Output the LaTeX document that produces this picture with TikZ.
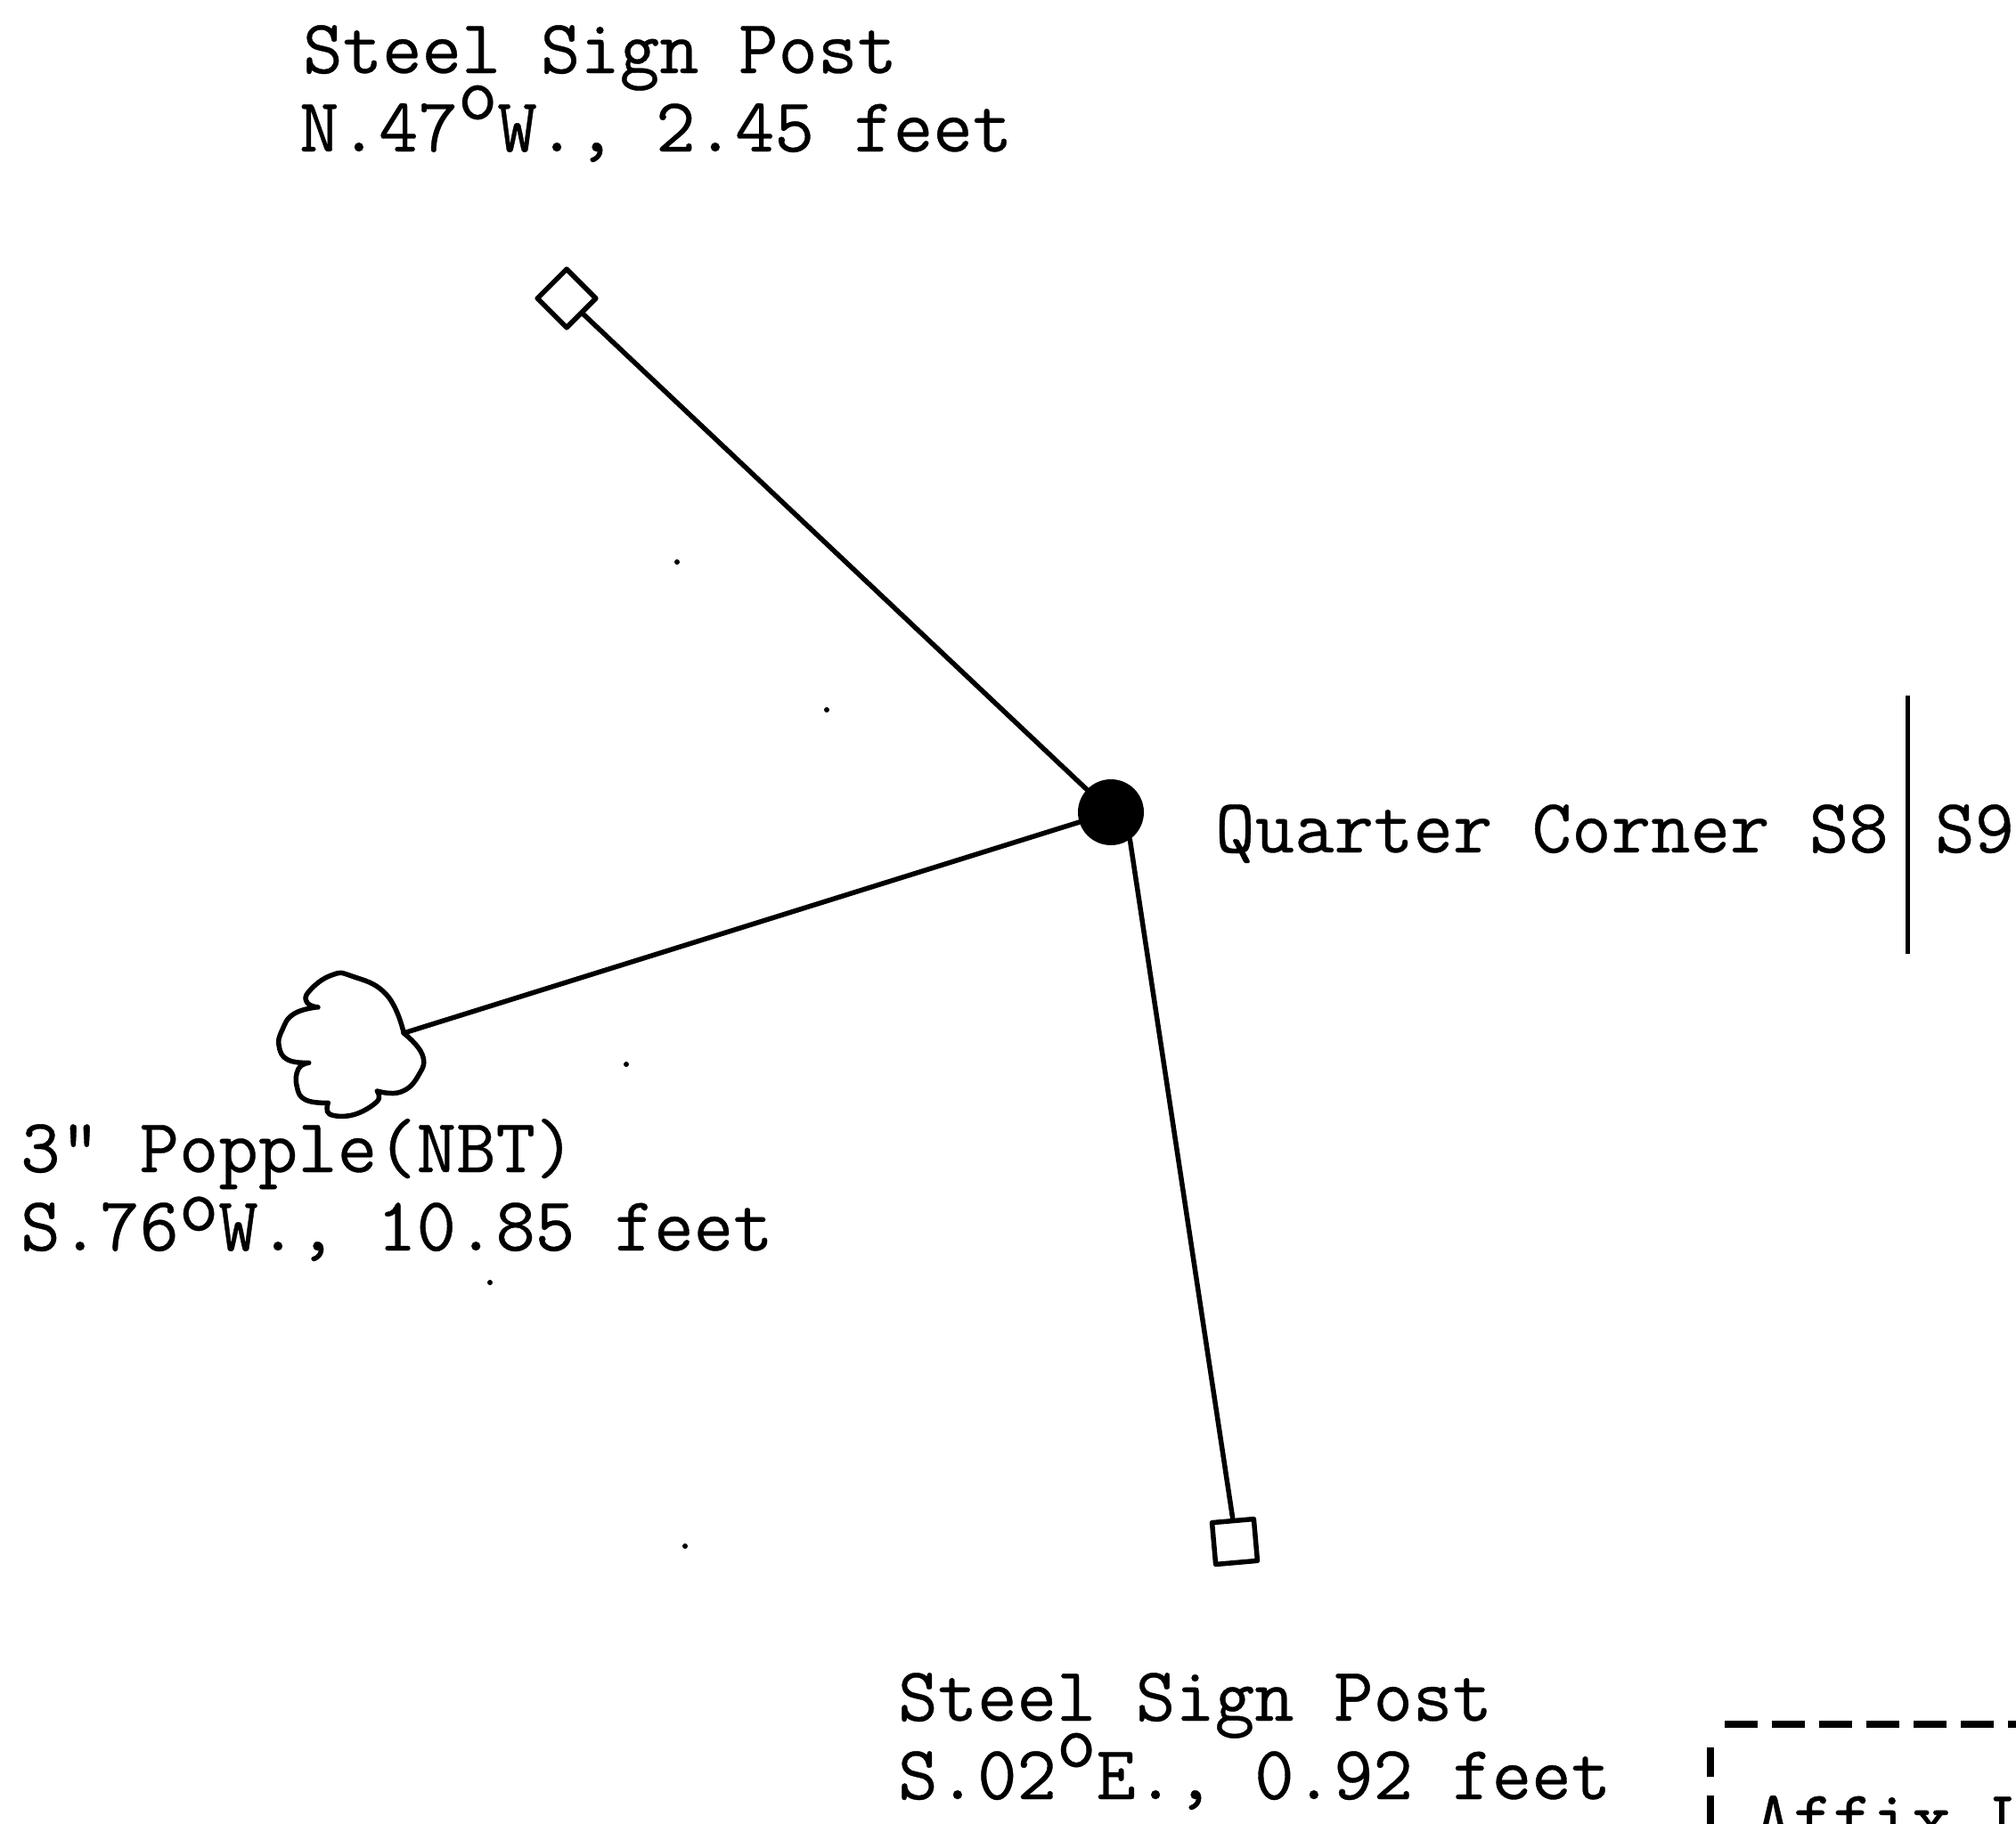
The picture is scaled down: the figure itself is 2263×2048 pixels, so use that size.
\documentclass[tikz,border=0pt]{standalone}
\usepackage{fontspec}
\newfontfamily\typew[FakeBold=0.4]{Latin Modern Mono}
\usetikzlibrary{shapes.geometric}
\newcommand{\dg}[1][0.42em]{\raisebox{#1}{o}}
\tikzset{
  lbl/.style={anchor=base west,inner sep=0pt,font=\fontsize{86.3}{90}\selectfont\typew},
  ink/.style={line width=5.5pt,line cap=round,line join=round,black},
  dashrule/.style={line width=8.5pt,black,dash pattern=on 37pt off 16pt,line cap=butt},
  speck/.style={circle,fill=black,inner sep=0pt,minimum size=6pt}
}
\begin{document}
\begin{tikzpicture}[x=1pt,y=-1pt]
\useasboundingbox (0,0) rectangle (2263,2048);
\clip (0,0) rectangle (2263,2048);
% labels
\node[lbl] (t1a) at (340,82) {Steel Sign Post};
\node[lbl] (t1b) at (336,170) {N.47\dg W., 2.45 feet};
\node[lbl] (t2) at (1364,957) {Quarter Corner S8};
\node[lbl] (t2b) at (2172,957) {S9};
\node[lbl] (t3a) at (23,1316) {3" Popple(NBT)};
\node[lbl] (t3b) at (23,1404) {S.76\dg[0.26em]W., 10.85 feet};
\node[lbl] (t4a) at (1008,1932) {Steel Sign Post};
\node[lbl] (t4b) at (1008,2020) {S.02\dg E., 0.92 feet};
\node[lbl] (t5) at (1968,2070) {Affix L};
% markers
\node[draw,ink,diamond,aspect=1,minimum width=68pt,minimum height=68pt,inner sep=0pt] (post1) at (636,335) {};
\node[draw,ink,rectangle,rotate=5,minimum width=47pt,minimum height=47pt,inner sep=0pt] (post3) at (1386,1731) {};
\node[circle,fill=black,minimum size=74pt,inner sep=0pt] (corner) at (1247,912) {};
% tree
\coordinate (tree) at (453,1160);
\draw[ink]
  plot[smooth,tension=0.8] coordinates {(453.3,1160) (434,1117) (395,1096) (372,1095) (347,1113) (345,1126) (357,1131)}
  plot[smooth,tension=0.8] coordinates {(356.7,1130.7) (330,1138.3) (316.7,1156.7) (313.3,1175) (323.3,1190) (346.7,1193.3)}
  plot[smooth,tension=0.8] coordinates {(346.7,1193.3) (335,1200) (333.3,1220) (343.3,1235) (368.3,1238.3)}
  plot[smooth,tension=0.7] coordinates {(368.3,1238.3) (370,1251) (396.7,1251.7) (423.3,1236.7) (423.3,1225)}
  plot[smooth,tension=0.8] coordinates {(423.3,1225) (450,1226) (470,1207) (474,1184) (453.3,1160)};
% connectors
\draw[ink] (post1) -- (corner);
\draw[ink] (tree) -- (corner);
\draw[ink] (corner.-55) -- (post3.north);
% section line
\coordinate (secT) at (2141,781);
\coordinate (secB) at (2141,1071);
\draw[line width=5pt,black] (secT) -- (secB);
% dashed box
\coordinate (boxTL) at (1936,1936);
\coordinate (boxTR) at (2263,1936);
\coordinate (boxL1) at (1920,1962);
\coordinate (boxL2) at (1920,1995);
\coordinate (boxL3) at (1920,2016);
\coordinate (boxL4) at (1920,2048);
\draw[dashrule] (boxTL) -- (boxTR);
\draw[line width=8pt,black] (boxL1) -- (boxL2);
\draw[line width=8pt,black] (boxL3) -- (boxL4);
% specks
\node[speck] (s1) at (760,631) {};
\node[speck] (s2) at (928,797) {};
\node[speck] (s3) at (703,1195) {};
\node[speck] (s4) at (550,1440) {};
\node[speck] (s5) at (769,1736) {};
\end{tikzpicture}
\end{document}
